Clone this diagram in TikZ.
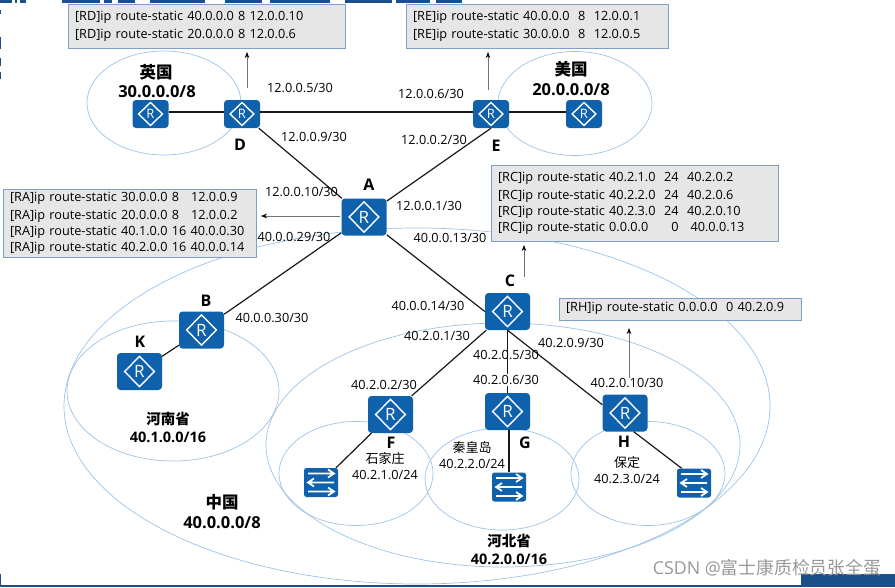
\documentclass[tikz,border=0pt]{standalone}
\usepackage{fontspec}
\usepackage{xcolor}
\usepackage{tikz}
\usetikzlibrary{calc, arrows.meta}
\setmainfont{Open Sans}
\newfontfamily\cjk{Noto Sans CJK SC}
\definecolor{rtblue}{HTML}{0F61AB}
\definecolor{zoneblue}{HTML}{9DC3E6}
\definecolor{boxedge}{HTML}{7F9FC4}
\definecolor{boxgrey}{HTML}{E6E6E6}
\definecolor{barblue}{HTML}{1B4F8A}

\begin{document}
\begin{tikzpicture}[
  x=1pt, y=-1pt,
  zone/.style={draw=zoneblue, line width=0.7pt},
  box/.style={rectangle, draw=boxedge, fill=boxgrey, line width=0.8pt, align=left, inner xsep=7pt,
              inner ysep=0pt, font=\fontsize{12.7}{16}\selectfont, execute at begin node={\vspace*{2pt}}},
  rt/.style={rectangle, fill=rtblue, rounded corners=3.5pt, inner sep=0pt, text=white,
             minimum width=36pt, minimum height=28pt, font=\fontsize{13}{13}\selectfont,
             path picture={\draw[white, line width=1.4pt, sharp corners]
               ($(path picture bounding box.center)!.66!(path picture bounding box.east)$) --
               ($(path picture bounding box.center)!.82!(path picture bounding box.north)$) --
               ($(path picture bounding box.center)!.66!(path picture bounding box.west)$) --
               ($(path picture bounding box.center)!.82!(path picture bounding box.south)$) -- cycle;}},
  bigrt/.style={rt, minimum width=45pt, minimum height=37pt, font=\fontsize{17}{17}\selectfont},
  sw/.style={rectangle, fill=rtblue, rounded corners=2.5pt, inner sep=0pt, minimum width=34pt, minimum height=29pt,
             path picture={\begin{scope}[white, line width=1.7pt, sharp corners, shift={(path picture bounding box.center)}]
               \draw (-13,-9) -- (13,-9) (7,-13) -- (13,-9) -- (7,-5);
               \draw (-13,0) -- (13,0) (-7,-4) -- (-13,0) -- (-7,4);
               \draw (-13,9) -- (13,9) (7,5) -- (13,9) -- (7,13);
             \end{scope}}},
  link/.style={line width=1.2pt, draw=black!90},
  note/.style={-{Stealth[black, length=6pt, width=4.5pt]}, draw=black!55, line width=0.6pt},
  ip/.style={font=\fontsize{12.7}{14}\selectfont, inner sep=0pt},
  letter/.style={font=\fontsize{16}{16}\selectfont\bfseries, inner sep=0pt},
  net/.style={font=\fontsize{16.5}{16.5}\selectfont\bfseries, inner sep=0pt},
  subnet/.style={font=\fontsize{14.5}{14.5}\selectfont\bfseries, inner sep=0pt},
  city/.style={font=\fontsize{13}{13}\selectfont\cjk, inner sep=0pt}
]
\useasboundingbox (0,0) rectangle (895,587);

%% ---- Scraps of the page round the picture ----
\foreach \xa/\xb in {0/12, 15/17, 20/26, 62/100, 104/112, 118/135, 150/205, 225/262, 270/330, 345/392, 396/430, 436/462}
  \fill[barblue] (\xa,0) rectangle (\xb,3);
\foreach \ya/\yb in {10/14, 37/49, 58/66, 72/79}
  \fill[barblue] (0,\ya) rectangle (1,\yb);
\fill[barblue] (0,585) rectangle (895,587);
\fill[barblue] (801,574) rectangle (895,587);
\fill[barblue] (0,574) rectangle (1,585);

%% ---- Address zones ----
\draw[zone] (417,406) ellipse (353pt and 178pt);
\draw[zone] (503,445) ellipse (237pt and 122pt);
\draw[zone] (173,391) ellipse (106pt and 70pt);
\draw[zone] (164,103) ellipse (77pt and 52pt);
\draw[zone] (575,103.5) ellipse (77pt and 52pt);
\draw[zone] (356,473.5) ellipse (77pt and 52pt);
\draw[zone] (502,479) ellipse (77pt and 51pt);
\draw[zone] (648,473.5) ellipse (77pt and 52pt);

%% ---- Routers and switches ----
\node[rt] at (150.5,114) (uk) {R};
\node[rt] at (242,114)   (D)  {R};
\node[rt] at (491,114)   (E)  {R};
\node[rt] at (584,114)   (us) {R};
\node[bigrt] at (364,217)     (A) {R};
\node[bigrt] at (201.5,330)   (B) {R};
\node[bigrt] at (139.5,371.5) (K) {R};
\node[bigrt] at (507.5,311.5) (C) {R};
\node[bigrt] at (390.5,414.5) (F) {R};
\node[bigrt] at (507.5,411.5) (G) {R};
\node[bigrt] at (625,413)     (H) {R};
\node[sw] at (321,482.5) (swF) {};
\node[sw] at (509,487)   (swG) {};
\node[sw] at (694,483)   (swH) {};

%% ---- Links ----
\draw[link] (uk.6)  -- (D.174);
\draw[link] (D.6)   -- (E.174);
\draw[link] (E.6)   -- (us.174);
\draw[link] (D)     -- (A);
\draw[link] (A)     -- (E.south);
\draw[link] (A)     -- (B);
\draw[link] (B)     -- (K);
\draw[link] (A)     -- (C.west);
\draw[link] (C)     -- (F);
\draw[link] (C)     -- (G);
\draw[link] (C.south) -- (H.160);
\draw[link] (F)     -- (swF);
\draw[link] (G.south -| swG) -- (swG);
\draw[link] (H.-65) -- (swH.130);

%% ---- Route tables ----
\node[box, minimum height=44pt, text width=263pt] at (206.5,26) (rd)
  {[RD]ip route-static 40.0.0.0 8 12.0.0.10\\{}[RD]ip route-static 20.0.0.0 8 12.0.0.6};
\node[box, minimum height=44pt, text width=248pt] at (537,26) (re)
  {[RE]ip route-static 40.0.0.0\ \ 8\ \ 12.0.0.1\\{}[RE]ip route-static 30.0.0.0\ \ 8\ \ 12.0.0.5};
\node[box, minimum height=68pt, text width=239pt] at (129.5,223) (ra)
  {[RA]ip route-static 30.0.0.0 8\hspace{12pt}12.0.0.9\\{}[RA]ip route-static 20.0.0.0 8\hspace{12pt}12.0.0.2\\{}[RA]ip route-static 40.1.0.0 16 40.0.0.30\\{}[RA]ip route-static 40.2.0.0 16 40.0.0.14};
\node[box, minimum height=76pt, text width=273pt] at (634.5,203) (rc)
  {[RC]ip route-static 40.2.1.0\ \ 24\ \ 40.2.0.2\\{}[RC]ip route-static 40.2.2.0\ \ 24\ \ 40.2.0.6\\{}[RC]ip route-static 40.2.3.0\ \ 24\ \ 40.2.0.10\\{}[RC]ip route-static 0.0.0.0\hspace{23pt}0\hspace{12pt}40.0.0.13};
\node[box, minimum height=22pt, text width=228pt] at (680,309) (rh)
  {[RH]ip route-static 0.0.0.0\ \ 0\ 40.2.0.9};

%% ---- Pointers to the tables ----
\coordinate (dfrom) at (247,88);  \coordinate (dto) at (247,52);
\coordinate (efrom) at (488,90);  \coordinate (eto) at (488,52);
\coordinate (afrom) at (340,216); \coordinate (ato) at (261,216);
\coordinate (cfrom) at (524,277); \coordinate (cto) at (524,245);
\coordinate (hfrom) at (629,378); \coordinate (hto) at (629,328);
\draw[note] (dfrom) -- (dto);
\draw[note] (efrom) -- (eto);
\draw[note] (afrom) -- (ato);
\draw[note] (cfrom) -- (cto);
\draw[note] (hfrom) -- (hto);

%% ---- Router letters ----
\node[letter] at (240,145)   (lblD) {D};
\node[letter] at (496,146)   (lblE) {E};
\node[letter] at (369,185)   (lblA) {A};
\node[letter] at (206,301)   (lblB) {B};
\node[letter] at (140,342)   (lblK) {K};
\node[letter] at (510,281)   (lblC) {C};
\node[letter] at (391,443)   (lblF) {F};
\node[letter] at (525,443)   (lblG) {G};
\node[letter] at (624,442)   (lblH) {H};

%% ---- Interface addresses ----
\node[ip] at (300,88)    (ipa) {12.0.0.5/30};
\node[ip] at (314,137)   (ipb) {12.0.0.9/30};
\node[ip] at (431,94)    (ipc) {12.0.0.6/30};
\node[ip] at (434,140)   (ipd) {12.0.0.2/30};
\node[ip] at (301.5,192) (ipe) {12.0.0.10/30};
\node[ip] at (429,206)   (ipf) {12.0.0.1/30};
\node[ip] at (294,237)   (ipg) {40.0.0.29/30};
\node[ip] at (450,238)   (iph) {40.0.0.13/30};
\node[ip] at (272,318)   (ipi) {40.0.0.30/30};
\node[ip] at (428,306)   (ipj) {40.0.0.14/30};
\node[ip] at (437,336)   (ipk) {40.2.0.1/30};
\node[ip] at (384,385)   (ipl) {40.2.0.2/30};
\node[ip] at (506,355)   (ipm) {40.2.0.5/30};
\node[ip, fill=white, inner sep=1pt] at (506,380) (ipn) {40.2.0.6/30};
\node[ip] at (571,343)   (ipo) {40.2.0.9/30};
\node[ip] at (627,383)   (ipp) {40.2.0.10/30};

%% ---- Zone names ----
\node[net] at (156,72)   (ukname) {\cjk 英国};
\node[net] at (157,92)   (uknet)  {30.0.0.0/8};
\node[net] at (571,69)   (usname) {\cjk 美国};
\node[net] at (571,90)   (usnet)  {20.0.0.0/8};
\node[subnet] at (168,419) (hnname) {\cjk 河南省};
\node[subnet] at (168,437) (hnnet)  {40.1.0.0/16};
\node[subnet] at (509,541) (hbname) {\cjk 河北省};
\node[subnet] at (509,559) (hbnet)  {40.2.0.0/16};
\node[net] at (222,502)  (cnname) {\cjk 中国};
\node[net] at (222,523)  (cnnet)  {40.0.0.0/8};
\node[city] at (385,459) (sjz)    {石家庄};
\node[ip]   at (385,475) (sjznet) {40.2.1.0/24};
\node[city] at (472,448) (qhd)    {秦皇岛};
\node[ip]   at (472,464) (qhdnet) {40.2.2.0/24};
\node[city] at (627,463) (bd)     {保定};
\node[ip]   at (627,479) (bdnet)  {40.2.3.0/24};

%% ---- Watermark ----
\node[inner sep=0pt, text=black!40, font=\fontsize{17.8}{18}\selectfont] at (767,568) (mark) {CSDN @{\cjk 富士康质检员张全蛋}};
\end{tikzpicture}
\end{document}
